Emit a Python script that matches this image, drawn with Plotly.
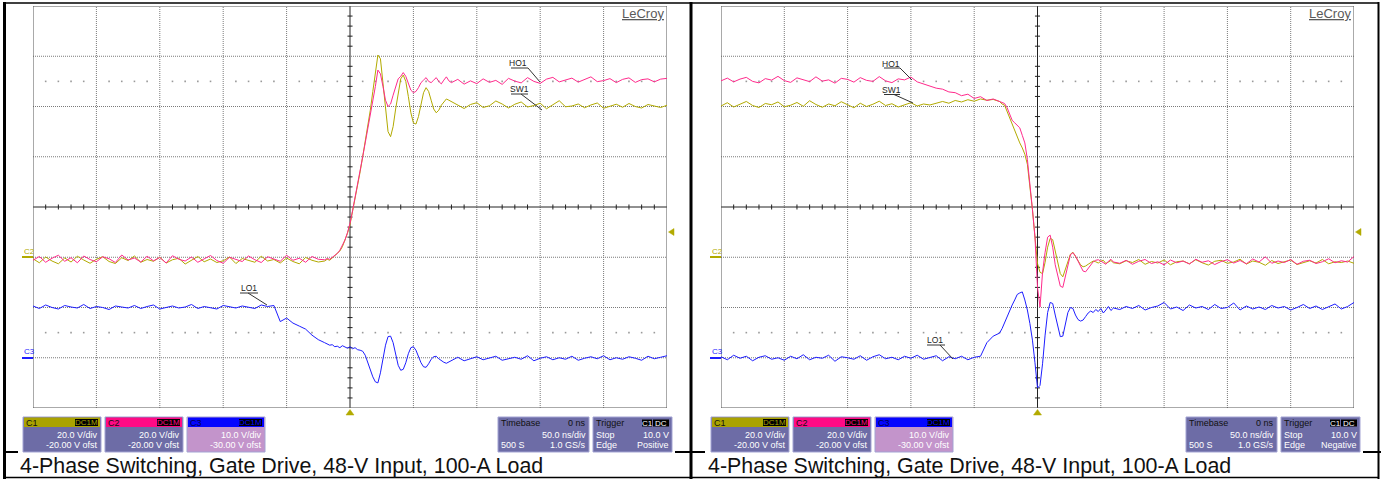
import plotly.graph_objects as go

W, H = 1381, 479
FONT = "Liberation Sans, Arial, sans-serif"

# ---------------------------------------------------------------- data
# channel settings read from the scope info boxes: (volts / div, offset V)
CHANNELS = {"C1": (20.0, -20.0), "C2": (20.0, -20.0), "C3": (10.0, -30.0)}
NS_PER_DIV = 50.0

# sample times in ns (denser around the switching edge)
T_LEFT = list(range(-250, -24, 5)) + list(range(-20, 79, 2)) + list(range(80, 251, 5))
T_RIGHT = list(range(-250, -34, 5)) + list(range(-30, 61, 2)) + list(range(65, 251, 5))

# ---- left screen: rising edge (volts)
SW1_LEFT = [
    -0.6, -2.2, 0.1, -1.5, -2.6, -0.3, -1.9, 0.4, -1.1, -2.4,
    -0.8, 0.2, -1.7, -2.5, -0.2, -1.3, 0.5, -2.0, -0.9, -1.6,
    0.0, -2.3, -1.0, -0.4, -2.7, -1.2, 0.3, -1.8, -0.7, -2.1,
    -1.4, 0.1, -2.5, -0.5, -1.1, -2.0, 0.4, -1.5, -0.9, -2.3,
    -0.3, -1.7, -2.6, -0.1, -1.2, -1.9,
    -1.5, -0.8, -1.2, -0.3, 0.4, 1.2, 2.5, 4.2, 6.5, 9.5,
    13.0, 18.0, 23.0, 28.0, 34.0, 40.0, 46.0, 52.0, 58.5, 66.0,
    74.0, 80.5, 79.0, 69.0, 58.0, 50.0, 48.0, 52.0, 59.0, 66.0,
    71.0, 72.5, 70.0, 64.0, 57.5, 53.5, 53.0, 56.0, 61.0, 65.5,
    67.5, 66.0, 62.5, 59.0, 57.5, 58.5, 60.5, 62.0, 63.0, 62.5,
    62.0, 60.5, 59.2, 60.8, 61.5, 59.6, 60.3, 62.2, 61.0, 59.4,
    60.9, 61.8, 59.8, 60.4, 61.3, 59.1, 60.7, 62.3, 59.9, 60.2,
    61.0, 59.5, 60.6, 61.4, 59.3, 60.1, 60.9, 59.7, 61.2, 60.0,
    59.4, 60.8, 60.3, 59.6, 60.5,
]
HO1_LEFT = [
    -1.2, 0.3, -2.0, -0.4, 0.8, -1.6, -0.2, -2.2, 0.5, -0.9,
    -1.8, 0.2, -0.6, -2.1, 0.9, -1.1, -0.3, -1.9, 0.4, -1.4,
    -0.1, -2.3, 0.6, -0.8, -1.5, 0.1, -2.0, -0.5, 0.7, -1.3,
    -2.4, 0.0, -0.9, -1.7, 0.5, -1.0, -2.1, 0.2, -0.7, -1.6,
    0.8, -1.2, -0.4, -2.0, 0.3, -0.8,
    -1.0, -0.5, -0.8, 0.0, 0.6, 1.5, 2.8, 4.5, 6.8, 9.8,
    13.5, 18.5, 23.5, 28.5, 34.5, 40.0, 45.5, 51.0, 56.0, 62.0,
    68.0, 74.5, 73.0, 68.0, 62.5, 60.0, 61.0, 64.5, 68.0, 71.0,
    72.0, 73.5, 72.0, 69.0, 66.5, 65.5, 66.0, 67.5, 69.5, 70.5,
    71.5, 70.0, 69.5, 70.5, 71.5, 70.0, 69.0, 70.5, 71.8, 70.2,
    69.5, 70.8, 68.9, 70.2, 69.1, 71.0, 69.6, 70.4, 68.8, 71.2,
    70.1, 69.4, 71.5, 70.0, 69.2, 70.9, 71.6, 69.8, 70.5, 71.3,
    69.7, 70.6, 71.8, 69.9, 70.3, 71.1, 69.5, 70.8, 71.4, 69.6,
    70.7, 71.0, 69.8, 70.9, 71.2,
]
LO1_LEFT = [
    10.3, 9.8, 10.5, 10.0, 9.7, 10.4, 10.1, 9.9, 10.6, 9.8,
    10.2, 10.0, 9.6, 10.3, 10.1, 9.9, 10.4, 9.8, 10.2, 10.5,
    9.7, 10.0, 10.3, 9.9, 10.1, 10.6, 9.8, 10.2, 10.0, 9.7,
    10.4, 10.1, 9.9, 10.3, 10.0, 9.8, 10.5, 10.2, 10.4, 7.2,
    7.9, 6.9, 6.3, 5.7, 4.5, 3.6,
    3.0, 2.8, 2.5, 2.6, 2.2, 2.3, 2.0, 2.4, 2.1, 1.9,
    2.2, 1.8, 2.0, 1.6, 1.5, 1.3, 0.5, -1.0, -2.5, -3.8,
    -4.8, -5.0, -3.0, 0.0, 2.5, 4.2, 4.3, 3.0, 0.5, -1.5,
    -2.5, -2.3, -1.0, 0.8, 2.0, 2.2, 1.5, 0.2, -1.0, -1.8,
    -1.9, -1.2, -0.3, 0.2, 0.3, -0.2, -0.6, -0.9, -1.1, -0.8,
    -0.5, 0.1, -0.6, -0.2, 0.2, -0.4, -0.1, 0.3, -0.5, -0.2,
    0.1, -0.3, 0.4, -0.6, -0.1, 0.2, -0.4, 0.0, -0.3, 0.3,
    -0.5, -0.1, 0.2, -0.2, 0.4, -0.4, 0.0, -0.3, 0.2, -0.1,
    -0.5, 0.3, -0.2, 0.1, 0.4,
]

# ---- right screen: falling edge (volts)
SW1_RIGHT = [
    60.2, 61.5, 59.8, 60.9, 62.0, 60.4, 59.6, 61.2, 60.7, 61.8,
    59.9, 60.5, 61.6, 60.1, 62.3, 60.8, 59.7, 61.0, 60.3, 61.9,
    60.6, 59.5, 61.3, 60.0, 60.9, 62.1, 60.4, 61.1, 59.8, 60.7,
    61.5, 60.2, 61.0, 60.6, 61.4, 62.0, 61.3, 62.4, 61.8, 62.7,
    62.1, 63.0, 62.5, 62.8,
    62.0, 61.0, 60.5, 58.0, 55.5, 52.5, 50.0, 47.5, 45.5, 43.5,
    41.0, 37.0, 29.0, 19.0, 8.0, -2.5, -6.0, -6.5, -2.0, 4.0,
    7.5, 7.0, 2.5, -2.5, -6.5, -7.8, -5.0, -1.5, 1.2, 2.0,
    0.5, -1.5, -3.0, -3.8, -3.5, -2.8, -2.0, -1.5, -1.8, -2.3,
    -1.6, -1.2, -2.5, -1.9, -1.3, -2.2,
    -2.6, -1.4, -2.1, -0.9, -2.8, -1.7, -2.3, -1.1, -3.0, -1.8,
    -1.5, -2.6, -1.0, -2.2, -3.1, -1.6, -1.2, -2.4, -1.9, -0.8,
    -2.7, -1.5, -2.0, -3.2, -1.3, -2.5, -1.7, -1.1, -2.9, -2.0,
    -1.4, -2.3, -0.9, -2.6, -1.8, -2.1, -1.5, -2.4,
]
HO1_RIGHT = [
    70.2, 71.3, 69.8, 70.9, 71.6, 70.0, 69.4, 71.1, 70.5, 72.0,
    70.3, 69.6, 71.4, 70.7, 69.9, 71.8, 70.1, 70.6, 69.3, 71.2,
    70.8, 69.7, 71.5, 70.4, 70.0, 71.9, 70.2, 69.5, 71.0, 70.6,
    71.7, 69.8, 69.0, 68.4, 67.3, 66.9, 65.8, 65.5, 64.3, 64.9,
    63.2, 63.9, 62.4, 63.0,
    62.0, 61.5, 61.2, 59.5, 56.8, 54.5, 53.5, 52.5, 51.5, 48.5,
    45.5, 39.0, 30.0, 19.0, 8.0, -12.0, -19.8, -6.0, 2.0, 8.0,
    8.8, 4.0, -3.0, -8.0, -11.5, -12.0, -7.5, -2.5, 1.0, 1.8,
    0.5, -1.5, -3.5, -5.5, -5.8, -4.5, -3.0, -1.8, -1.2, -1.0,
    -1.5, -2.2, -2.8, -1.6, -0.8, -1.9,
    -2.4, -1.2, -2.8, -1.6, -0.9, -2.5, -1.8, -3.0, -1.1, -2.2,
    -1.5, -2.7, -0.8, -2.0, -1.4, -2.9, -1.7, -1.0, -2.3, -1.3,
    -2.6, -0.7, -1.9, 0.2, -2.4, -1.5, -2.1, -0.9, -2.8, -1.6,
    -1.2, -2.5, -1.8, -0.6, -2.2, -1.4, -1.9, 0.3,
]
LO1_RIGHT = [
    0.2, -0.4, 0.5, -0.1, 0.3, -0.6, 0.1, 0.4, -0.3, 0.0,
    -0.5, 0.3, -0.2, 0.6, -0.4, 0.1, -0.1, 0.5, -0.7, 0.2,
    0.0, -0.3, 0.4, -0.5, 0.2, 0.6, -0.2, 0.1, -0.4, 0.3,
    -0.1, 0.5, -0.3, 0.0, 0.4, -0.6, 0.2, -0.2, 0.3, -0.4,
    0.1, 0.3, 3.0, 4.3,
    4.9, 5.8, 7.0, 8.2, 9.6, 10.5, 11.5, 12.6, 12.9, 13.1,
    11.5, 9.5, 6.8, 3.5, -1.0, -6.0, -5.5, -1.2, 4.5, 9.0,
    11.0, 10.8, 8.5, 6.0, 4.2, 4.3, 6.5, 9.0, 10.0, 9.8,
    8.5, 7.6, 7.3, 7.5, 8.2, 8.9, 9.3, 9.0, 9.6, 9.2,
    9.8, 8.9, 9.5, 10.2, 9.4, 9.9,
    9.6, 10.2, 9.8, 10.4, 9.5, 10.0, 10.3, 11.0, 9.7, 10.1,
    9.4, 10.5, 9.9, 10.2, 9.6, 10.6, 9.8, 10.0, 10.9, 9.5,
    10.3, 9.7, 10.1, 9.6, 10.4, 9.9, 10.2, 9.5, 10.0, 10.6,
    9.8, 10.3, 9.6, 10.1, 10.7, 9.7, 10.2, 11.0,
]

CAPTION = "4-Phase Switching, Gate Drive, 48-V Input, 100-A Load"
TRIGGER_EDGE = ["Positive", "Negative"]

# ---------------------------------------------------------------- style
YEL = "#b2aa00"
PINK = "#ff2a8c"
BLUE = "#1e1eff"
GRIDC = "#7a7a7a"
BODY = "#6d6ca6"
C3BODY = "#c394cb"
OUTLINE = "#a3a3d3"


def to_div(v, ch):
    vdiv, ofst = CHANNELS[ch]
    return (v + ofst) / vdiv


def PX(x):
    return x / W


def PY(y):
    return 1 - y / H


shapes, annotations, traces = [], [], []


def pline(x0, y0, x1, y1, color="black", width=1, dash=None):
    d = dict(type="line", xref="paper", yref="paper", x0=PX(x0), y0=PY(y0),
             x1=PX(x1), y1=PY(y1), line=dict(color=color, width=width), layer="above")
    if dash:
        d["line"]["dash"] = dash
    shapes.append(d)


def prect(x0, y0, x1, y1, fill, line=None, lw=0):
    shapes.append(dict(type="rect", xref="paper", yref="paper", x0=PX(x0), x1=PX(x1),
                       y0=PY(y1), y1=PY(y0), fillcolor=fill,
                       line=dict(color=line or fill, width=lw), layer="above"))


def ppoly(pts, fill):
    path = "M " + " L ".join(f"{PX(x)},{PY(y)}" for x, y in pts) + " Z"
    shapes.append(dict(type="path", xref="paper", yref="paper", path=path,
                       fillcolor=fill, line=dict(color=fill, width=0.5), layer="above"))


def ptext(x, y, text, size, color, anchor="left", family=FONT):
    annotations.append(dict(x=PX(x), y=PY(y), xref="paper", yref="paper", text=text,
                            showarrow=False, xanchor=anchor, yanchor="middle",
                            borderpad=0, font=dict(size=size, color=color, family=family)))


PANELS = [
    dict(ox=0, gx0=33, gx1=667, xa="x", ya="y", t=T_LEFT,
         sw=SW1_LEFT, ho=HO1_LEFT, lo=LO1_LEFT, edge=TRIGGER_EDGE[0],
         labels=[("HO1", 518, 63, 511, 528, 68, 528, 68, 540, 82),
                 ("SW1", 519, 89, 511, 528, 94, 521, 94, 542, 110),
                 ("LO1", 249, 288, 240, 258, 293, 248, 293, 267, 305)]),
    dict(ox=688, gx0=721, gx1=1354, xa="x2", ya="y2", t=T_RIGHT,
         sw=SW1_RIGHT, ho=HO1_RIGHT, lo=LO1_RIGHT, edge=TRIGGER_EDGE[1],
         labels=[("HO1", 891, 64, 884, 900, 68, 900, 68, 912, 80),
                 ("SW1", 891, 90, 884, 900, 94.5, 894, 94.5, 913, 103),
                 ("LO1", 935, 340, 927, 945, 345, 940, 345, 953, 359)]),
]

GY0, GY1 = 6, 408
layout_axes = {}
for i, p in enumerate(PANELS):
    suffix = "" if i == 0 else str(i + 1)
    layout_axes["xaxis" + suffix] = dict(domain=[PX(p["gx0"]), PX(p["gx1"])],
                                         range=[-5 * NS_PER_DIV, 5 * NS_PER_DIV],
                                         visible=False, fixedrange=True,
                                         anchor="y" + suffix)
    layout_axes["yaxis" + suffix] = dict(domain=[PY(GY1), PY(GY0)], range=[-4, 4],
                                         visible=False, fixedrange=True,
                                         anchor="x" + suffix)
    xa, ya = p["xa"], p["ya"]

    # graticule
    for k in range(-4, 5):
        if k == 0:
            continue
        shapes.append(dict(type="line", xref=xa, yref=ya, x0=k * NS_PER_DIV, x1=k * NS_PER_DIV,
                           y0=-4, y1=4, line=dict(color=GRIDC, width=1, dash="1px,1px"),
                           layer="below"))
    for k in range(-3, 4):
        if k == 0:
            continue
        shapes.append(dict(type="line", xref=xa, yref=ya, x0=-250, x1=250, y0=k, y1=k,
                           line=dict(color=GRIDC, width=1, dash="1px,1px"), layer="below"))
    shapes.append(dict(type="line", xref=xa, yref=ya, x0=0, x1=0, y0=-4, y1=4,
                       line=dict(color="#222", width=1), layer="below"))
    shapes.append(dict(type="line", xref=xa, yref=ya, x0=-250, x1=250, y0=0, y1=0,
                       line=dict(color="#222", width=1), layer="below"))
    shapes.append(dict(type="rect", xref=xa, yref=ya, x0=-250, x1=250, y0=-4, y1=4,
                       line=dict(color="#555", width=1), layer="below"))

    # minor ticks on the centre cross
    tx, ty = [], []
    for k in range(-24, 25):
        if k % 5:
            tx += [k * 10, k * 10, None]
            ty += [-0.05, 0.05, None]
    for k in range(-19, 20):
        if k % 5:
            tx += [-2, 2, None]
            ty += [k * 0.2, k * 0.2, None]
    traces.append(go.Scatter(x=tx, y=ty, mode="lines", line=dict(color="#222", width=1),
                             xaxis=xa, yaxis=ya, hoverinfo="skip", showlegend=False))
    # dotted rows at +/- 2.5 div
    dx, dy = [], []
    for yy in (2.5, -2.5):
        for k in range(-24, 25):
            if k % 5:
                dx.append(k * 10)
                dy.append(yy)
    traces.append(go.Scatter(x=dx, y=dy, mode="markers",
                             marker=dict(color="#9a9a9a", size=1.6, symbol="square"),
                             xaxis=xa, yaxis=ya, hoverinfo="skip", showlegend=False))

    # waveforms
    for key, ch, col in (("sw", "C1", YEL), ("ho", "C2", PINK), ("lo", "C3", BLUE)):
        traces.append(go.Scatter(x=p["t"], y=[to_div(v, ch) for v in p[key]], mode="lines",
                                 line=dict(color=col, width=1), xaxis=xa, yaxis=ya,
                                 hoverinfo="skip", showlegend=False))

    ox = p["ox"]
    # trace labels with leader lines
    for (txt, tcx, tcy, u0, u1, uy, l0x, l0y, l1x, l1y) in p["labels"]:
        ptext(tcx, tcy, txt, 8.5, "#222", "center")
        pline(u0, uy, u1, uy, "#333", 1)
        pline(l0x, l0y, l1x, l1y, "#333", 1)

    # channel ground markers
    ptext(ox + 23, 251, "C2", 8, YEL, "left")
    pline(ox + 22, 257, ox + 33, 257, YEL, 2)
    ptext(ox + 23, 351, "C3", 8, BLUE, "left")
    pline(ox + 22, 358, ox + 33, 358, BLUE, 2)

    # trigger level / position markers
    gx1 = p["gx1"]
    ppoly([(gx1 + 1.5, 232), (gx1 + 7, 228.5), (gx1 + 7, 235.5)], YEL)
    cx = (p["gx0"] + p["gx1"]) / 2
    ppoly([(cx, 409.5), (cx - 4, 415), (cx + 4, 415)], YEL)

    # LeCroy logo
    ptext(gx1 - 24, 13.5, "<u>LeCroy</u>", 13, "#5a5a5a", "center")

    # channel info boxes
    for (bx0, bx1, hdr, body, name, ncol, l1, l2) in (
            (23, 101, "#aaa300", BODY, "C1", "#111", "20.0 V/div", "-20.00 V ofst"),
            (105, 183, "#ff0a85", BODY, "C2", "#111", "20.0 V/div", "-20.00 V ofst"),
            (187, 265, "#0505ff", C3BODY, "C3", "#000050", "10.0 V/div", "-30.00 V ofst")):
        x0, x1 = ox + bx0, ox + bx1
        prect(x0, 417, x1, 452, body, OUTLINE, 1)
        prect(x0 + 1, 417.5, x1 - 1, 427, hdr)
        prect(x1 - 26, 419, x1 - 3, 426, "black")
        ptext(x0 + 2, 422.5, name, 9, ncol, "left")
        ptext(x1 - 14.5, 422.5, "DC1M", 8, hdr, "center")
        ptext(x1 - 2, 435, l1, 9, "white", "right")
        ptext(x1 - 2, 445, l2, 9, "white", "right")

    # timebase box
    x0, x1 = ox + 498, ox + 589
    prect(x0, 417, x1, 452, BODY, OUTLINE, 1)
    ptext(x0 + 2, 423, "Timebase", 9, "#111", "left")
    ptext(x1 - 2, 423, "0 ns", 9, "#111", "right")
    ptext(x1 - 2, 435, "50.0 ns/div", 9, "white", "right")
    ptext(x0 + 2, 445, "500 S", 9, "white", "left")
    ptext(x1 - 2, 445, "1.0 GS/s", 9, "white", "right")

    # trigger box
    x0, x1 = ox + 593, ox + 672
    prect(x0, 417, x1, 452, BODY, OUTLINE, 1)
    ptext(x0 + 2, 423, "Trigger", 9, "#111", "left")
    prect(x0 + 49, 419.5, x0 + 59, 426.5, "black")
    prect(x0 + 60, 419.5, x0 + 76, 426.5, "black")
    ptext(x0 + 54, 423, "C1", 8, "white", "center")
    ptext(x0 + 68, 423, "DC", 8, "white", "center")
    ptext(x0 + 2, 435, "Stop", 9, "white", "left")
    ptext(x1 - 2, 435, "10.0 V", 9, "white", "right")
    ptext(x0 + 2, 445, "Edge", 9, "white", "left")
    ptext(x1 - 2, 445, p["edge"], 9, "white", "right")

    # caption
    ptext(ox + 19, 465.5, CAPTION, 21.4, "#111", "left")

# table frame
pline(3, 3, 1379, 3, "black", 1.5)
pline(4.5, 2, 4.5, 479, "black", 3)
pline(691, 2, 691, 479, "black", 3)
pline(1378.5, 2, 1378.5, 479, "black", 2)
pline(3, 477.5, 1379, 477.5, "black", 1.5)
for a, b in ((3, 18), (675, 705), (1363, 1381)):
    pline(a, 452, b, 452, "black", 2)

fig = go.Figure(data=traces)
fig.update_layout(width=W, height=H, margin=dict(l=0, r=0, t=0, b=0),
                  paper_bgcolor="white", plot_bgcolor="white",
                  shapes=shapes, annotations=annotations, showlegend=False,
                  **layout_axes)
fig.write_html("out.html", config={"displayModeBar": False})
